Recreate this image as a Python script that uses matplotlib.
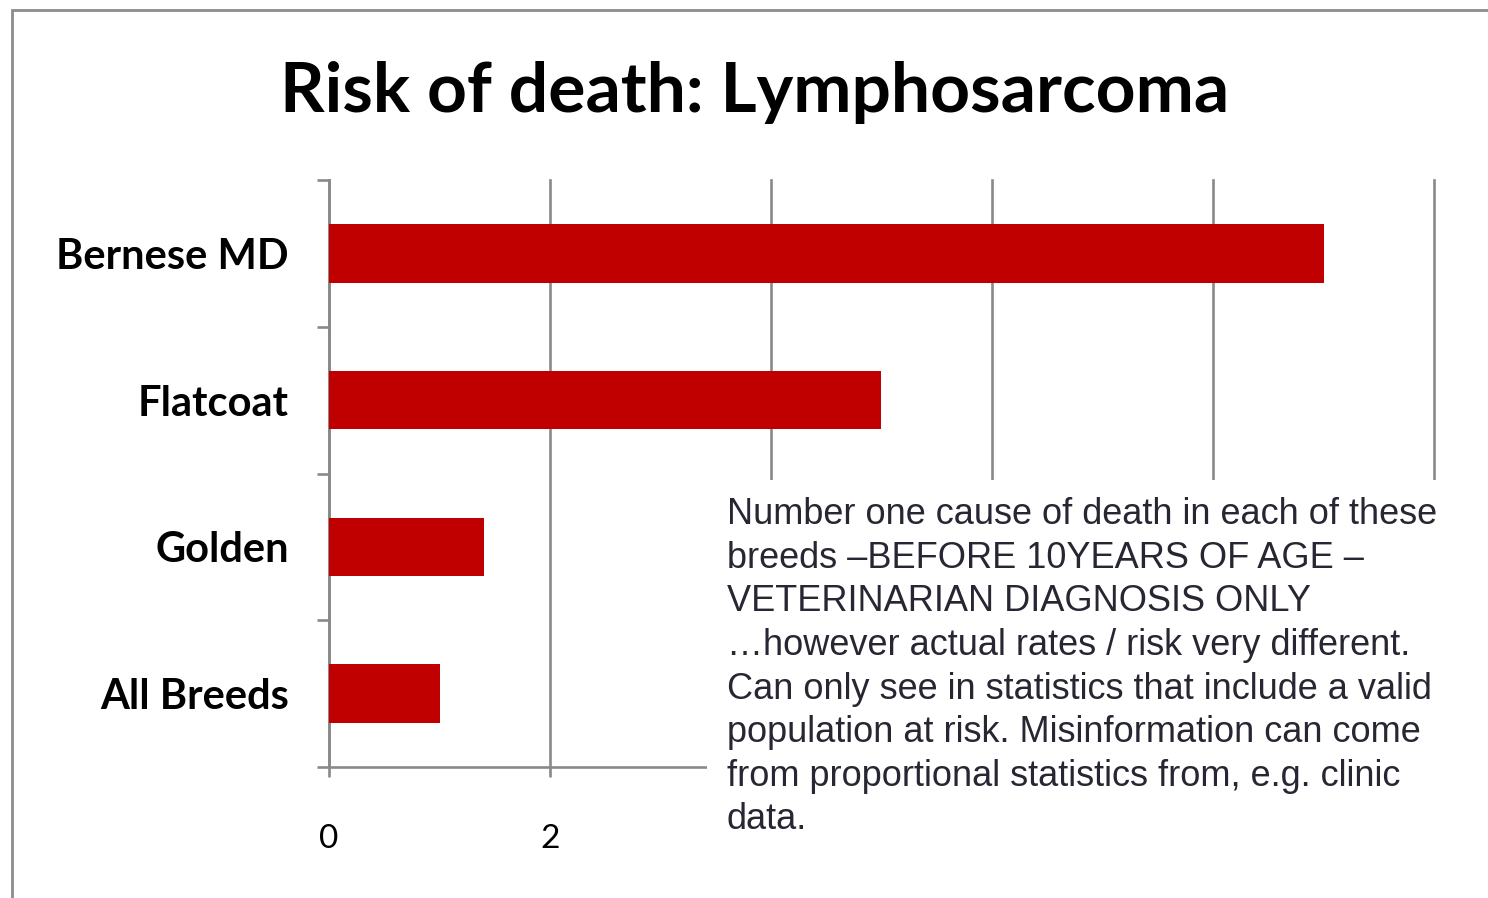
import matplotlib
matplotlib.use("Agg")
import matplotlib.pyplot as plt
from matplotlib.patches import Rectangle

# data
breeds = ["Bernese MD", "Flatcoat", "Golden", "All Breeds"]
risk = [9.0, 5.0, 1.4, 1.0]
x_ticks = [0, 2, 4, 6, 8, 10]

title = "Risk of death: Lymphosarcoma"
note = ("Number one cause of death in each of these\n"
        "breeds \u2013BEFORE 10YEARS OF AGE \u2013\n"
        "VETERINARIAN DIAGNOSIS ONLY\n"
        "\u2026however actual rates / risk very different.\n"
        "Can only see in statistics that include a valid\n"
        "population at risk. Misinformation can come\n"
        "from proportional statistics from, e.g. clinic\n"
        "data.")

W, H = 1488, 898
grey = "#898989"
red = "#c00000"

fig = plt.figure(figsize=(W / 100, H / 100), dpi=100)
ax = fig.add_axes([329 / W, 1 - 767 / H, (1434 - 329) / W, (767 - 180) / H])

ypos = list(range(len(breeds)))
ax.barh(ypos, risk, height=0.4, color=red, zorder=3)
ax.set_ylim(len(breeds) - 0.5, -0.5)
ax.set_xlim(0, 10)

ax.set_xticks(x_ticks)
ax.set_xticklabels([str(t) for t in x_ticks], fontsize=24, family="Lato")
# the note box covers the labels from 4 upward
for t, lab in zip(x_ticks, ax.get_xticklabels()):
    if t >= 4:
        lab.set_visible(False)
ax.set_yticks(ypos)
ax.set_yticklabels(breeds, fontsize=30, family="Lato", fontweight="bold")
ax.set_yticks([i - 0.5 for i in range(len(breeds) + 1)], minor=True)

ax.tick_params(axis="y", which="major", length=0, pad=29)
ax.tick_params(axis="y", which="minor", length=9, width=1.9, color=grey, direction="out")
ax.tick_params(axis="x", which="major", length=7, width=1.9, color=grey, direction="out", pad=34)

ax.grid(axis="x", color=grey, linewidth=1.9, zorder=1)
for gl in ax.get_xgridlines():
    gl.set_clip_on(False)
for side in ["top", "right"]:
    ax.spines[side].set_visible(False)
for side in ["left", "bottom"]:
    ax.spines[side].set_color(grey)
    ax.spines[side].set_linewidth(1.9)

# slide frame
fig.patches.append(Rectangle((12 / W, -0.1), 1.2, 1 - 10 / H + 0.1, transform=fig.transFigure,
                             fill=False, edgecolor="#8c8c8c", linewidth=2, zorder=0))

fig.text(755 / W, 1 - 112 / H, title, ha="center", va="baseline",
         fontsize=50, family="Lato", fontweight="bold")

# white note box covering lower right of the chart
fig.patches.append(Rectangle((707 / W, -0.05), 1.0, 1 - 480 / H + 0.05, transform=fig.transFigure,
                             facecolor="white", edgecolor="none", zorder=5))
fig.text(727 / W, 1 - 497 / H, note, ha="left", va="top", fontsize=26,
         family="Liberation Sans", color="#272733", linespacing=1.32, zorder=6)

fig.savefig("out.png", dpi=100)
